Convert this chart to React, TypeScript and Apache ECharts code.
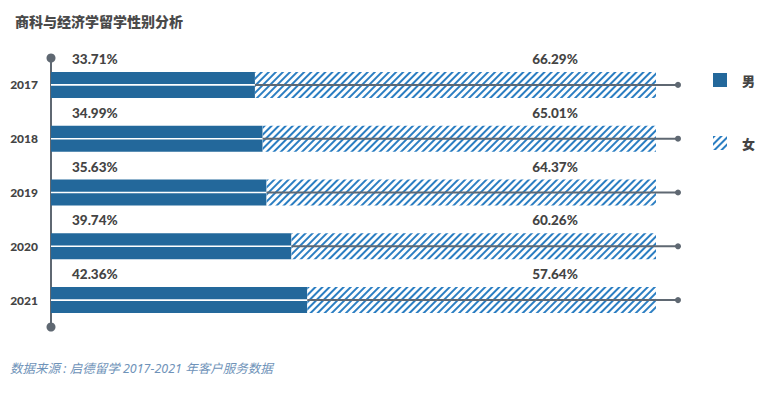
import React, { useEffect, useRef } from "react";
import * as echarts from "echarts";

const years = ["2017", "2018", "2019", "2020", "2021"];
const male = [33.71, 34.99, 35.63, 39.74, 42.36];
const female = [66.29, 65.01, 64.37, 60.26, 57.64];
const legendNames = ["男", "女"];
const titleText = "商科与经济学留学性别分析";
const sourceText = "数据来源 : 启德留学 2017-2021 年客户服务数据";

const MALE_COLOR = "#23689b";
const HATCH_COLOR = "#2b7ec2";
const AXIS_COLOR = "#5f6872";
const TEXT_COLOR = "#444444";
const FONT = "Lato, 'Noto Sans CJK SC', sans-serif";

export default function App() {
  const ref = useRef<HTMLDivElement>(null);
  useEffect(() => {
    if (!ref.current) return;
    const chart = echarts.init(ref.current, undefined, { renderer: "svg" });
    const decal = {
      symbol: "rect",
      symbolSize: 1,
      dashArrayX: [[1, 0]],
      dashArrayY: [1.7, 2.6],
      rotation: -Math.PI / 4,
      color: HATCH_COLOR,
    };
    chart.setOption({
      animation: false,
      title: {
        text: titleText,
        left: 10,
        top: 9,
        textStyle: { fontSize: 14, fontWeight: 900, color: "#4a4a4a", fontFamily: "'Noto Sans CJK SC', sans-serif" },
      },
      legend: {
        data: legendNames,
        orient: "vertical",
        left: 708,
        top: 68,
        itemWidth: 14,
        itemHeight: 14,
        itemGap: 49,
        icon: "rect",
        textStyle: { fontSize: 13, fontWeight: 900, color: TEXT_COLOR, fontFamily: "'Noto Sans CJK SC', sans-serif", padding: [0, 0, 0, 10] },
      },
      grid: { left: 51, right: 108, top: 58, height: 269 },
      xAxis: { type: "value", min: 0, max: 100, show: false },
      yAxis: {
        type: "category",
        data: years,
        inverse: true,
        axisTick: { show: false },
        axisLine: {
          show: true,
          symbol: ["circle", "circle"],
          symbolSize: [9, 9],
          lineStyle: { color: AXIS_COLOR, width: 2 },
        },
        axisLabel: { margin: 13, fontSize: 12, fontWeight: 900, color: TEXT_COLOR, fontFamily: FONT },
      },
      series: [
        {
          name: legendNames[0],
          type: "bar",
          stack: "s",
          barWidth: 26,
          data: male,
          itemStyle: { color: MALE_COLOR },
        },
        {
          name: legendNames[1],
          type: "bar",
          stack: "s",
          barWidth: 26,
          data: female,
          itemStyle: { color: "#ffffff", decal },
        },
        {
          type: "custom",
          name: "lines",
          clip: false,
          z: 5,
          data: years.map((y, i) => [male[i], i, female[i]]),
          encode: { x: 0, y: 1 },
          renderItem: (params: any, api: any) => {
            const idx = api.value(1);
            const m = api.value(0);
            const f = api.value(2);
            const p0 = api.coord([0, idx]);
            const pm = api.coord([m, idx]);
            const p100 = api.coord([100, idx]);
            const endX = p100[0] + 22;
            const y = p0[1];
            return {
              type: "group",
              children: [
                { type: "line", shape: { x1: p0[0], y1: y, x2: pm[0], y2: y }, style: { stroke: "#ffffff", lineWidth: 1.6 } },
                { type: "line", shape: { x1: pm[0], y1: y, x2: endX, y2: y }, style: { stroke: AXIS_COLOR, lineWidth: 2 } },
                { type: "circle", shape: { cx: endX, cy: y, r: 3 }, style: { fill: AXIS_COLOR } },
                {
                  type: "text",
                  x: p0[0] + 21,
                  y: y - 26,
                  style: { text: m.toFixed(2) + "%", font: "900 13.5px " + FONT, fill: TEXT_COLOR, textAlign: "left", textVerticalAlign: "middle" },
                },
                {
                  type: "text",
                  x: p100[0] - 101,
                  y: y - 26,
                  style: { text: f.toFixed(2) + "%", font: "900 13.5px " + FONT, fill: TEXT_COLOR, textAlign: "center", textVerticalAlign: "middle" },
                },
              ],
            };
          },
        },
      ],
      graphic: [
        {
          type: "text",
          left: 10,
          top: 362,
          style: { text: sourceText, font: "italic 12.5px 'Noto Sans', 'Noto Sans CJK SC', sans-serif", fill: "#6f93b9" },
        },
      ],
    });
    return () => chart.dispose();
  }, []);
  return <div ref={ref} style={{ width: 764, height: 394, position: "absolute", left: 0, top: 0 }} />;
}
